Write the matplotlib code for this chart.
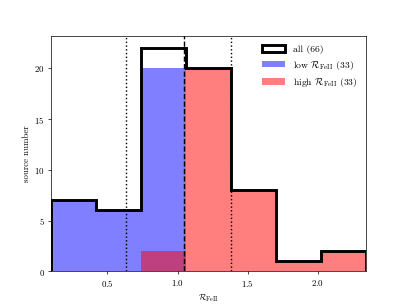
import numpy as np
import matplotlib
matplotlib.use("Agg")
import matplotlib.pyplot as plt

plt.rcParams["font.family"] = "serif"
plt.rcParams["font.serif"] = ["cmr10", "DejaVu Serif"]
plt.rcParams["mathtext.fontset"] = "cm"
plt.rcParams["axes.formatter.use_mathtext"] = True

# histogram data
bin_edges = [0.096, 0.418, 0.739, 1.061, 1.382, 1.704, 2.025, 2.347]
all_counts = [7, 6, 22, 20, 8, 1, 2]
low_counts = [7, 6, 20, 0, 0, 0, 0]
high_counts = [0, 0, 2, 20, 8, 1, 2]
dotted_lines = [0.635, 1.378]
dashed_line = 1.045

edges = np.array(bin_edges)
centers = 0.5 * (edges[:-1] + edges[1:])

fig, ax = plt.subplots(figsize=(6.4, 4.8))

ax.hist(centers, bins=edges, weights=low_counts, color="blue", alpha=0.5,
        label=r"low $\mathcal{R}_{\rm FeII}$ (%d)" % sum(low_counts))
ax.hist(centers, bins=edges, weights=high_counts, color="red", alpha=0.5,
        label=r"high $\mathcal{R}_{\rm FeII}$ (%d)" % sum(high_counts))
ax.hist(centers, bins=edges, weights=all_counts, histtype="step", color="k",
        lw=3.3, label="all (%d)" % sum(all_counts))

for x in dotted_lines:
    ax.axvline(x, color="k", ls=":", lw=1.6)
ax.axvline(dashed_line, color="k", ls="--", lw=1.6)

ax.set_xlim(edges[0], edges[-1])
ax.set_xlabel(r"$\mathcal{R}_{\rm FeII}$")
ax.set_ylabel("source number")

handles, labels = ax.get_legend_handles_labels()
order = [2, 0, 1]
ax.legend([handles[i] for i in order], [labels[i] for i in order],
          loc="upper right", frameon=False, fontsize=11, handlelength=2.4,
          labelspacing=0.45)

fig.savefig("out.png", dpi=407 / 6.4)
